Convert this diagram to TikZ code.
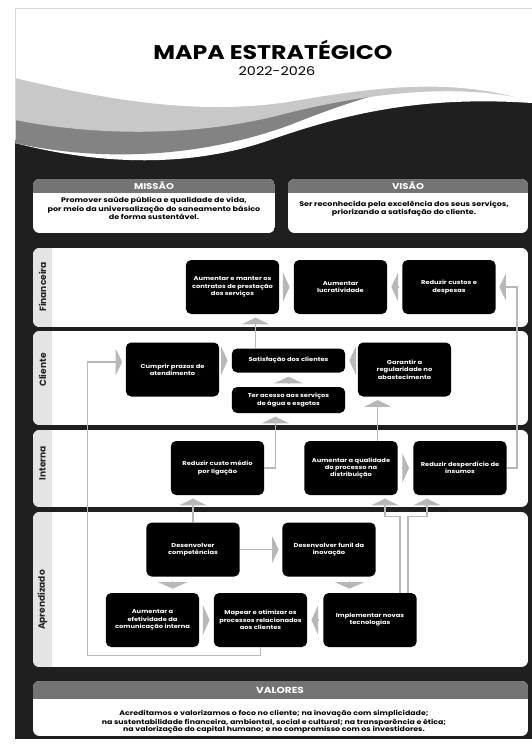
\documentclass[tikz,border=0pt]{standalone}
\usepackage{fontspec}
\setmainfont{Poppins}[FakeStretch=1.2]
\newfontfamily\lanefont{Poppins}
\usetikzlibrary{arrows.meta,calc}

\definecolor{poster}{HTML}{1F1F1F}
\definecolor{lightband}{HTML}{C8C8C8}
\definecolor{midband}{HTML}{838383}
\definecolor{tabgrey}{HTML}{E4E4E4}
\definecolor{bargrey}{HTML}{747474}
\definecolor{linkgrey}{HTML}{B8B8B8}

\begin{document}
\begin{tikzpicture}[x=0.75pt,y=0.75pt,yscale=-1,xscale=1,
  obj/.style={fill=black, rounded corners=4pt, text=white, align=center, inner sep=1pt,
    minimum width=70pt, minimum height=40.5pt, font=\bfseries\fontsize{4.2}{5.5}\selectfont},
  objflat/.style={obj, minimum width=85pt, minimum height=18pt},
  lanelbl/.style={rotate=90, text=black!85, font=\lanefont\bfseries\fontsize{6.8}{8}\selectfont},
  bartxt/.style={text=white, font=\bfseries\fontsize{6.3}{7}\selectfont},
  bodytxt/.style={align=center, font=\bfseries\fontsize{5}{4.7}\selectfont},
  link/.style={draw=linkgrey, line width=1pt, -{Triangle[width=20pt,length=5pt]}, shorten >=2.5pt},
  gap/.style={draw=linkgrey, line width=1pt, -{Triangle[width=22pt,length=5pt]}, shorten <=3pt, shorten >=3pt}]

\useasboundingbox (0,0) rectangle (532,747);
\fill[white] (0,0) rectangle (532,747);
\fill[poster] (15,8) rectangle (532,739);

\fill[white] (15,8) -- (532,8) -- (532,103) .. controls (425,96) and (350,112) .. (270,140) .. controls (190,168) and (100,165) .. (15,143) -- cycle;
\fill[midband] (15,8) -- (532,8) -- (532,85) -- (420,85) .. controls (380,92) and (340,105) .. (290,125) .. controls (200,158) and (100,162) .. (15,143) -- cycle;
\fill[lightband] (15,8) -- (532,8) -- (532,97) -- (515,97) .. controls (450,85) and (370,92) .. (280,115) .. controls (190,138) and (90,135) .. (15,120) -- cycle;
\fill[white] (15,8) -- (532,8) -- (532,97) -- (515,97) .. controls (450,80) and (380,86) .. (300,100) .. controls (200,118) and (100,98) .. (15,78) -- cycle;
\draw[gray!30, line width=0.4pt] (15,140) -- (15,8) -- (532,8);

\node[font=\bfseries\fontsize{14.8}{16}\selectfont] (title) at (273,50) {MAPA ESTRATÉGICO};
\node[font=\fontsize{9}{10}\selectfont] (years) at (277,71) {2022-2026};


\begin{scope}
\clip[rounded corners=5pt] (33,179) rectangle (275,233);
\fill[white] (33,179) rectangle (275,233);
\fill[bargrey] (33,179) rectangle (275,193);
\end{scope}
\node[bartxt] (missaoH) at (154,186) {MISSÃO};
\node[bodytxt] (missao) at (154,208.5) {Promover saúde pública e qualidade de vida,\\por meio da universalização do saneamento básico\\de forma sustentável.};

\begin{scope}
\clip[rounded corners=5pt] (288,179) rectangle (528,233);
\fill[white] (288,179) rectangle (528,233);
\fill[bargrey] (288,179) rectangle (528,193);
\end{scope}
\node[bartxt] (visaoH) at (408,186) {VISÃO};
\node[bodytxt] (visao) at (404,208.5) {Ser reconhecida pela excelência dos seus serviços,\\priorizando a satisfação do cliente.};


\begin{scope}
\clip[rounded corners=5pt] (33,248) rectangle (528,327);
\fill[white] (33,248) rectangle (528,327);
\fill[tabgrey] (33,248) rectangle (52,327);
\end{scope}
\node[lanelbl] (laneF) at (42.5,287) {Financeira};

\begin{scope}
\clip[rounded corners=5pt] (33,331) rectangle (528,425);
\fill[white] (33,331) rectangle (528,425);
\fill[tabgrey] (33,331) rectangle (52,425);
\end{scope}
\node[lanelbl] (laneC) at (42.5,370) {Cliente};

\begin{scope}
\clip[rounded corners=5pt] (33,430) rectangle (528,507);
\fill[white] (33,430) rectangle (528,507);
\fill[tabgrey] (33,430) rectangle (52,507);
\end{scope}
\node[lanelbl] (laneI) at (42.5,463) {Interna};

\begin{scope}
\clip[rounded corners=5pt] (33,512) rectangle (528,667);
\fill[white] (33,512) rectangle (528,667);
\fill[tabgrey] (33,512) rectangle (52,667);
\end{scope}
\node[lanelbl] (laneA) at (42.5,600) {Aprendizado};


\node[obj] (F1) at (232.5,287) {Aumentar e manter os\\contratos de prestação\\dos serviços};
\node[obj] (F2) at (340.5,287) {Aumentar\\lucratividade};
\node[obj] (F3) at (449,287) {Reduzir custos e\\despesas};

\node[obj] (C1) at (172.5,369.5) {Cumprir prazos de\\atendimento};
\node[objflat] (C2) at (288.5,360.5) {Satisfação dos clientes};
\node[objflat, minimum height=19.5pt] (C3) at (288.5,400) {Ter acesso aos serviços\\de água e esgotos};
\node[obj] (C4) at (404.5,369.5) {Garantir a\\regularidade no\\abastecimento};

\node[obj] (I1) at (217.5,468) {Reduzir custo médio\\por ligação};
\node[obj] (I2) at (351,468) {Aumentar a qualidade\\do processo na\\distribuição};
\node[obj] (I3) at (460,468) {Reduzir desperdício de\\insumos};

\node[obj] (A1) at (193,549.5) {Desenvolver\\competências};
\node[obj] (A2) at (329,549.5) {Desenvolver funil da\\inovação};
\node[obj] (A3) at (152.5,620) {Aumentar a\\efetividade da\\comunicação interna};
\node[obj] (A4) at (260.5,620) {Mapear e otimizar os\\processos relacionados\\aos clientes};
\node[obj] (A5) at (370,620) {Implementar novas\\tecnologias};


\draw[gap] (F1) -- (F2);
\draw[gap] (F3) -- (F2);
\draw[gap] (C1.east |- C2) -- (C2);
\draw[gap] (C4.west |- C2) -- (C2);
\draw[gap] (C3) -- (C2);
\draw[gap] (I2) -- (I3);
\draw[gap] (A3) -- (A4);
\draw[gap] (A5) -- (A4);
\coordinate (m1) at ($(A1.south west)!.5!(A3.north east)$);
\draw[gap] (A1.south -| m1) -- (A3.north -| m1);
\coordinate (m2) at ($(A5.north west)!.5!(A2.south east)$);
\draw[gap] (A2.south -| m2) -- (A5.north -| m2);

\coordinate (m3) at ($(C2.north west)!.5!(F1.south east)$);
\draw[link] (C2.north -| m3) -- (F1.south -| m3);
\draw[link] (I1.east) -- ++(11,0) coordinate (k1) -- (k1 |- C3.south);
\coordinate (m4) at ($(C4.south west)!.5!(I2.north east)$);
\draw[link] (I2.north -| m4) -- (C4.south -| m4);
\draw[link] (A1) -- (I1.south -| A1);
\draw[link] (A1) -- (A2);
\draw[link] (A4.south) -- ++(0,8) -| ($(C1.west)+(-38,-7.5)$) -- ($(C1.west)+(0,-7.5)$);
\draw[link] ($(A5.north)+(30,0)$) -- ++(0,-76) -| ($(I2.south)+(34,0)$);
\draw[link] ($(A5.north)+(38,0)$) -- ++(0,-76) -| ($(I3.south)+(-33,0)$);
\draw[link] (I3.east) -- ++(10,0) coordinate (k3) -- (k3 |- F3.east) -- (F3.east);


\begin{scope}
\clip[rounded corners=5pt] (33,681) rectangle (528,736);
\fill[white] (33,681) rectangle (528,736);
\fill[bargrey] (33,681) rectangle (528,699);
\end{scope}
\node[bartxt, font=\bfseries\fontsize{6.6}{7}\selectfont] (valoresH) at (280,690) {VALORES};
\node[bodytxt, font=\bfseries\fontsize{4.9}{5.25}\selectfont] (valores) at (274,722) {Acreditamos e valorizamos o foco no cliente; na inovação com simplicidade;\\na sustentabilidade financeira, ambiental, social e cultural; na transparência e ética;\\na valorização do capital humano; e no compromisso com os investidores.};

\end{tikzpicture}
\end{document}
